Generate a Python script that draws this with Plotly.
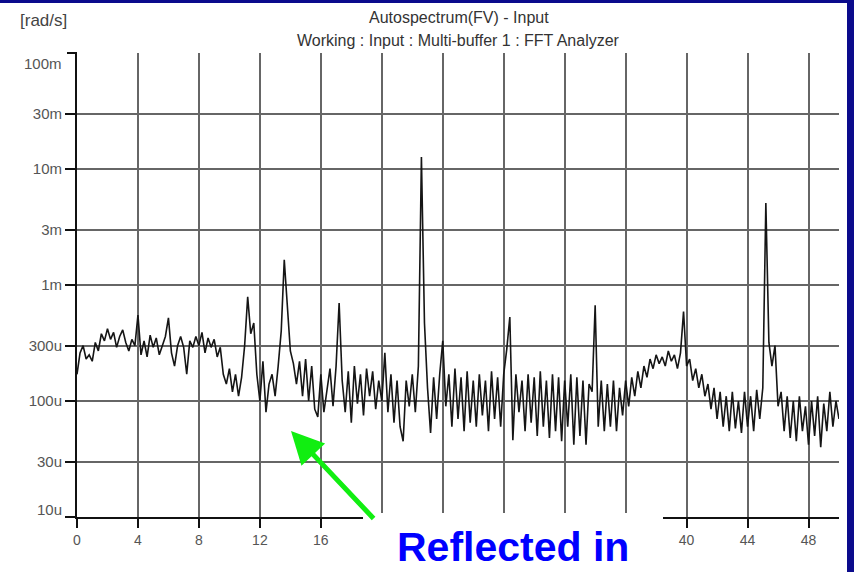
import numpy as np
import plotly.graph_objects as go

# Frequency grid (Hz), 0.2 Hz resolution
freq = np.round(np.arange(0, 50.0001, 0.2), 1)

# Autospectrum amplitude in micro rad/s
amp_u = [
    170, 260, 300, 230, 250, 220, 320, 270, 380, 330,   # 0.0 - 1.8
    420, 340, 390, 290, 360, 410, 320, 270, 340, 300,   # 2.0 - 3.8
    550, 250, 330, 240, 370, 290, 350, 250, 300, 360,   # 4.0 - 5.8
    520, 260, 200, 300, 360, 290, 170, 330, 290, 360,   # 6.0 - 7.8
    300, 390, 260, 350, 290, 340, 240, 290, 170, 140,   # 8.0 - 9.8
    190, 120, 170, 110, 160, 300, 790, 380, 470, 170,   # 10.0 - 11.8
    100, 220, 80, 140, 170, 110, 200, 400, 1650, 600,   # 12.0 - 13.8
    270, 210, 140, 220, 110, 230, 100, 200, 85, 73,     # 14.0 - 15.8
    170, 80, 120, 190, 90, 200, 700, 150, 80, 180,      # 16.0 - 17.8
    65, 200, 95, 170, 75, 190, 110, 180, 85, 150,       # 18.0 - 19.8
    100, 260, 80, 170, 65, 150, 60, 45, 150, 90,        # 20.0 - 21.8
    170, 80, 200, 12700, 470, 130, 53, 160, 70, 170,    # 22.0 - 23.8
    330, 90, 170, 60, 190, 70, 160, 55, 180, 65,        # 24.0 - 25.8
    150, 60, 170, 75, 150, 55, 180, 70, 160, 60,        # 26.0 - 27.8
    170, 280, 530, 46, 170, 80, 150, 55, 170, 65,       # 28.0 - 29.8
    160, 50, 180, 60, 150, 48, 170, 55, 160, 45,        # 30.0 - 31.8
    150, 60, 170, 42, 160, 50, 150, 42, 140, 120,       # 32.0 - 33.8
    670, 60, 150, 55, 140, 60, 150, 55, 130, 75,        # 34.0 - 35.8
    150, 90, 160, 110, 180, 130, 200, 160, 230, 190,    # 36.0 - 37.8
    250, 210, 240, 200, 270, 220, 250, 190, 260, 590,   # 38.0 - 39.8
    200, 230, 150, 190, 130, 170, 110, 140, 85, 130,    # 40.0 - 41.8
    70, 120, 60, 110, 55, 120, 58, 100, 53, 120,        # 42.0 - 43.8
    60, 110, 55, 125, 70, 130, 5100, 320, 200, 300,     # 44.0 - 45.8
    90, 120, 55, 110, 48, 100, 45, 110, 55, 90,         # 46.0 - 47.8
    42, 100, 50, 110, 40, 95, 55, 120, 60, 100,         # 48.0 - 49.8
    70,                                                 # 50.0
]
amp = np.array(amp_u) * 1e-6

x_ticks = [0, 4, 8, 12, 16, 20, 24, 28, 32, 36, 40, 44, 48]
# labels 20..36 are hidden behind the callout box in the reference
x_text = ["0", "4", "8", "12", "16", "", "", "", "", "", "40", "44", "48"]
y_ticks = [1e-5, 3e-5, 1e-4, 3e-4, 1e-3, 3e-3, 1e-2, 3e-2]
y_text = ["", "30u", "100u", "300u", "1m", "3m", "10m", "30m"]

title1 = "Autospectrum(FV) - Input"
title2 = "Working : Input : Multi-buffer 1 : FFT Analyzer"
unit = "[rad/s]"
callout = "Reflected in"

W, H = 854, 572
L, R, T, B = 77, 15, 53, 55
pw, ph = W - L - R, H - T - B

def px(x):  # pixel -> paper x
    return (x - L) / pw

def py(y):  # pixel -> paper y
    return (H - B - y) / ph

FONT = "Liberation Sans, Arial, sans-serif"
GRAY = "#555555"

fig = go.Figure()
fig.add_trace(go.Scatter(x=freq, y=amp, mode="lines",
                         line=dict(color="#151515", width=1.6),
                         hoverinfo="skip", showlegend=False))

fig.update_layout(
    width=W, height=H,
    margin=dict(l=L, r=R, t=T, b=B),
    paper_bgcolor="white", plot_bgcolor="white",
    font=dict(family=FONT, size=14, color=GRAY),
    showlegend=False,
)
fig.update_xaxes(range=[0, 50], tickvals=x_ticks, ticktext=x_text,
                 showgrid=True, gridcolor="#666666", gridwidth=2,
                 showline=True, linecolor="#111111", linewidth=2,
                 ticks="outside", ticklen=9, tickwidth=2, tickcolor="#111111",
                 tickfont=dict(size=14, color=GRAY), zeroline=False)
fig.update_yaxes(type="log", range=[-5, -1], tickvals=y_ticks, ticktext=y_text,
                 showgrid=True, gridcolor="#666666", gridwidth=2,
                 showline=True, linecolor="#111111", linewidth=2,
                 ticks="outside", ticklen=10, tickwidth=2, tickcolor="#111111",
                 tickfont=dict(size=15, color=GRAY), zeroline=False)

shapes = [
    # tick at the top (100m)
    dict(type="line", xref="paper", yref="paper", x0=px(67), x1=px(77), y0=1, y1=1,
         line=dict(color="#111111", width=2)),
    # white box under the callout text
    dict(type="rect", xref="paper", yref="paper", x0=px(363), x1=px(663),
         y0=py(574), y1=py(513), fillcolor="white", line=dict(width=0), layer="above"),
    # blue frame: top and right
    dict(type="rect", xref="paper", yref="paper", x0=px(-2), x1=px(856),
         y0=py(3), y1=py(-2), fillcolor="#0b0b8c", line=dict(width=0), layer="above"),
    dict(type="rect", xref="paper", yref="paper", x0=px(847), x1=px(856),
         y0=py(574), y1=py(-2), fillcolor="#0b0b8c", line=dict(width=0), layer="above"),
]

annotations = [
    dict(text=title1, xref="paper", yref="paper", x=px(459), y=py(18), showarrow=False,
         xanchor="center", yanchor="middle", font=dict(size=16, color="#333333")),
    dict(text=title2, xref="paper", yref="paper", x=px(458), y=py(41), showarrow=False,
         xanchor="center", yanchor="middle", font=dict(size=16, color="#333333")),
    dict(text=unit, xref="paper", yref="paper", x=px(43), y=py(20), showarrow=False,
         xanchor="center", yanchor="middle", font=dict(size=17, color="#444444")),
    dict(text="100m", xref="paper", yref="paper", x=px(64), y=py(63), showarrow=False,
         xanchor="right", yanchor="middle", font=dict(size=15, color=GRAY)),
    dict(text="10u", xref="paper", yref="paper", x=px(64), y=py(509), showarrow=False,
         xanchor="right", yanchor="middle", font=dict(size=15, color=GRAY)),
    # green arrow
    dict(text="", xref="paper", yref="paper", x=px(291), y=py(431),
         showarrow=True, ax=84, ay=89, arrowhead=2, arrowsize=1.3, arrowwidth=5,
         arrowcolor="#11ee11", standoff=0),
    dict(text="<b>" + callout + "</b>", xref="paper", yref="paper", x=px(513), y=py(547),
         showarrow=False, xanchor="center", yanchor="middle",
         font=dict(size=41, color="#0000ff", family=FONT)),
]

fig.update_layout(shapes=shapes, annotations=annotations)
fig.write_html("out.html")
